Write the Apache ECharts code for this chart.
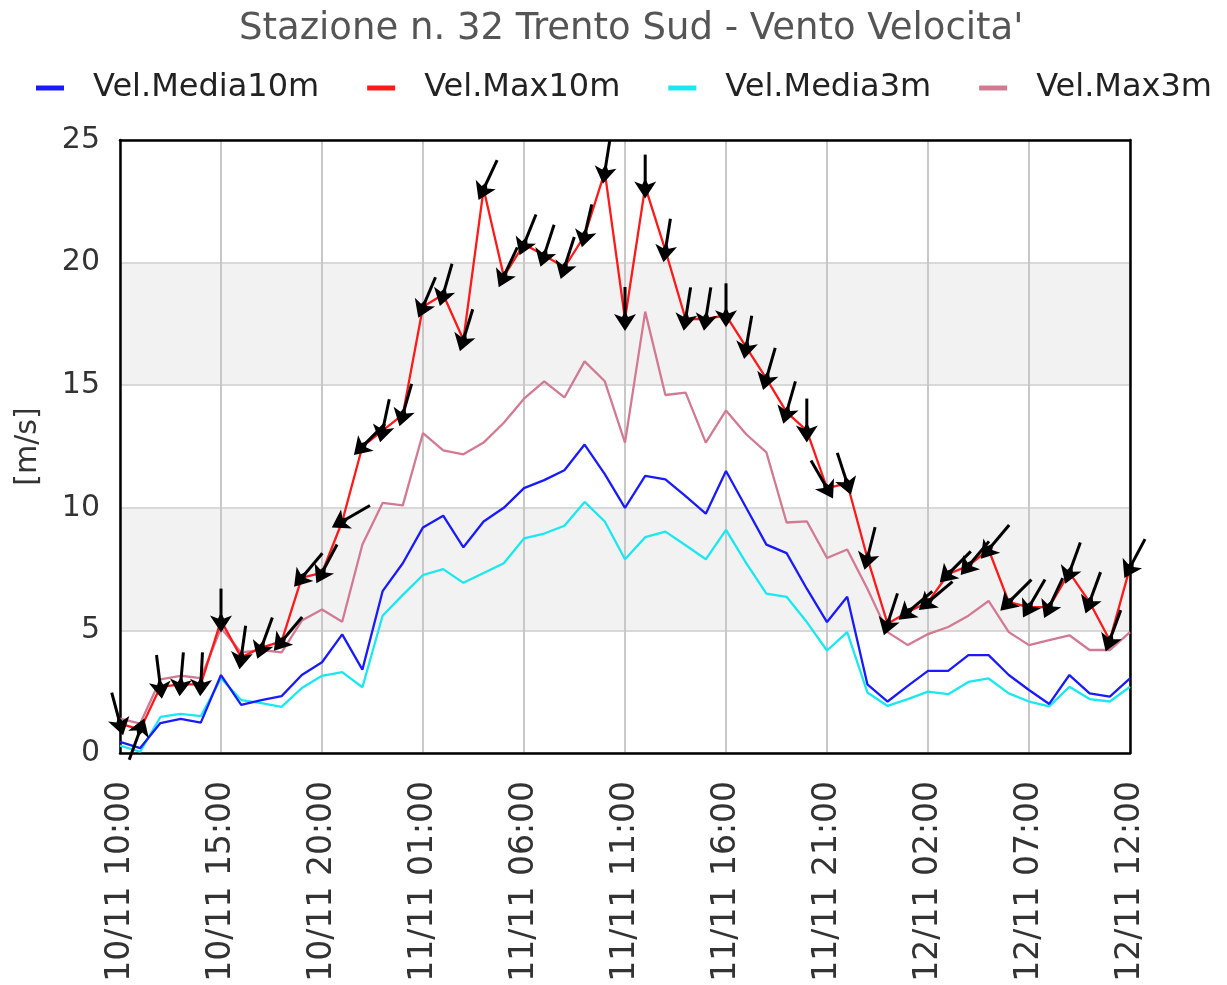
<!DOCTYPE html>
<html>
<head>
<meta charset="utf-8">
<title>Stazione n. 32 Trento Sud - Vento Velocita'</title>
<script src="https://cdn.jsdelivr.net/npm/echarts@6/dist/echarts.min.js"></script>
<style>
    html, body { margin: 0; padding: 0; background: #fff; }
    #chart { width: 1227px; height: 985px; }
</style>
</head>
<body>
<div id="chart"></div>
<script>
// dati: una misura ogni ora, dal 10/11 10:00 al 12/11 12:00
var seriesNames = ['Vel.Media10m', 'Vel.Max10m', 'Vel.Media3m', 'Vel.Max3m'];

var velMedia10m = [0.45, 0.2, 1.22, 1.39, 1.24, 3.18, 1.96, 2.16, 2.32, 3.18,
    3.7, 4.84, 3.4, 6.6, 7.74, 9.2, 9.68, 8.39, 9.44, 10.0,
    10.8, 11.13, 11.53, 12.58, 11.37, 10.0, 11.3, 11.16, 10.48, 9.76,
    11.5, 10.0, 8.5, 8.15, 6.7, 5.34, 6.37, 2.8, 2.1, 2.74,
    3.35, 3.35, 3.99, 3.99, 3.18, 2.57, 2.0, 3.18, 2.43, 2.3, 3.04];

var velMax10m = [1.2, 0.95, 2.7, 2.8, 2.8, 5.4, 3.9, 4.3, 4.55, 7.15,
    7.35, 9.44, 12.5, 13.15, 13.8, 18.2, 18.7, 16.85, 23.0, 19.44,
    20.75, 20.3, 19.8, 21.1, 23.7, 17.7, 23.1, 20.5, 17.7, 17.7,
    17.85, 16.55, 15.27, 13.9, 13.15, 10.8, 11.0, 7.95, 5.27, 5.75,
    6.15, 7.3, 7.63, 8.3, 6.15, 5.95, 5.95, 7.36, 6.15, 4.6, 7.57];

var velMedia3m = [0.3, 0.05, 1.47, 1.6, 1.5, 3.05, 2.16, 2.03, 1.88, 2.65,
    3.15, 3.3, 2.68, 5.6, 6.45, 7.26, 7.5, 6.94, 7.34, 7.74,
    8.75, 8.95, 9.27, 10.24, 9.44, 7.9, 8.8, 9.03, 8.47, 7.9,
    9.1, 7.74, 6.5, 6.37, 5.34, 4.18, 4.93, 2.47, 1.92, 2.2,
    2.5, 2.4, 2.9, 3.04, 2.43, 2.1, 1.9, 2.7, 2.2, 2.1, 2.7];

var velMax3m = [1.4, 1.2, 3.0, 3.15, 3.05, 5.1, 4.1, 4.2, 4.1, 5.4,
    5.85, 5.35, 8.5, 10.2, 10.1, 13.05, 12.34, 12.18, 12.66, 13.47,
    14.45, 15.16, 14.5, 15.97, 15.16, 12.66, 18.0, 14.6, 14.7, 12.66,
    13.97, 13.0, 12.26, 9.4, 9.45, 7.95, 8.3, 6.7, 4.93, 4.4,
    4.85, 5.14, 5.6, 6.2, 4.93, 4.4, 4.6, 4.8, 4.2, 4.2, 4.93];

// direzione di provenienza del vento (gradi da nord, senso orario)
var dirVento = [345, 200, 353, 5, 3, 0, 8, 20, 40, 40,
    28, 60, 45, 12, 16, 23, 16, 17, 25, 25,
    22, 18, 18, 13, 9, 0, 0, 9, 9, 9,
    0, 10, 16, 16, 0, 330, 342, 14, 18, 50,
    50, 45, 40, 40, 45, 30, 25, 20, 20, 20, 28];

// etichette orarie
var categories = [];
(function () {
    var day = 10, hour = 10;
    for (var i = 0; i < velMax10m.length; i++) {
        categories.push(day + '/11 ' + (hour < 10 ? '0' : '') + hour + ':00');
        hour++;
        if (hour === 24) { hour = 0; day++; }
    }
})();

var arrowData = velMax10m.map(function (v, i) {
    return [i, v, dirVento[i]];
});

var chart = echarts.init(document.getElementById('chart'));

var font = 'DejaVu Sans';
var frame = { show: true, onZero: false, lineStyle: { color: '#000', width: 2.5 } };

var option = {
    backgroundColor: '#fff',
    animation: false,
    textStyle: { fontFamily: font },
    title: {
        text: "Stazione n. 32 Trento Sud - Vento Velocita'",
        left: 234,
        top: 6,
        textStyle: { fontFamily: font, fontSize: 37, fontWeight: 'normal', color: '#555' }
    },
    legend: {
        data: seriesNames,
        left: 31,
        top: 67,
        icon: 'rect',
        itemWidth: 28,
        itemHeight: 5,
        itemGap: 48,
        textStyle: { fontFamily: font, fontSize: 32, color: '#222', padding: [0, 0, 0, 24] }
    },
    grid: {
        left: 120,
        right: 97,
        top: 140,
        bottom: 232
    },
    xAxis: [
        {
            type: 'category',
            data: categories,
            boundaryGap: false,
            axisLine: frame,
            axisTick: { show: false },
            axisLabel: {
                interval: 4,
                rotate: 90,
                margin: 28,
                fontFamily: font,
                fontSize: 33,
                color: '#333'
            },
            splitLine: {
                show: true,
                interval: 4,
                lineStyle: { color: '#c8c8c8', width: 2 }
            }
        },
        {
            // bordo superiore
            type: 'category',
            data: categories,
            position: 'top',
            boundaryGap: false,
            axisLine: frame,
            axisTick: { show: false },
            axisLabel: { show: false },
            splitLine: { show: false }
        }
    ],
    yAxis: [
        {
            type: 'value',
            min: 0,
            max: 25,
            interval: 5,
            name: '[m/s]',
            nameLocation: 'middle',
            nameRotate: 90,
            nameGap: 77,
            nameTextStyle: { fontFamily: font, fontSize: 30, color: '#333' },
            axisLine: frame,
            axisTick: { show: false },
            axisLabel: { margin: 20, fontFamily: font, fontSize: 30, color: '#333' },
            splitLine: { lineStyle: { color: '#d8d8d8', width: 2 } },
            splitArea: { show: true, areaStyle: { color: ['#ffffff', '#f2f2f2'] } }
        },
        {
            // bordo destro
            type: 'value',
            min: 0,
            max: 25,
            interval: 5,
            position: 'right',
            axisLine: frame,
            axisTick: { show: false },
            axisLabel: { show: false },
            splitLine: { show: false }
        }
    ],
    series: [
        {
            name: 'Vel.Media10m',
            type: 'line',
            data: velMedia10m,
            symbol: 'none',
            color: '#1a1aff',
            lineStyle: { width: 2.3 },
            z: 3
        },
        {
            name: 'Vel.Max10m',
            type: 'line',
            data: velMax10m,
            symbol: 'none',
            color: '#ff1a1a',
            lineStyle: { width: 2.3 },
            z: 5
        },
        {
            name: 'Vel.Media3m',
            type: 'line',
            data: velMedia3m,
            symbol: 'none',
            color: '#1ae8f0',
            lineStyle: { width: 2.3 },
            z: 2
        },
        {
            name: 'Vel.Max3m',
            type: 'line',
            data: velMax3m,
            symbol: 'none',
            color: '#d27a92',
            lineStyle: { width: 2.3 },
            z: 4
        },
        {
            // frecce direzione vento sulla Vel.Max10m
            name: 'dir',
            type: 'custom',
            data: arrowData,
            z: 10,
            silent: true,
            renderItem: function (params, api) {
                var pt = api.coord([api.value(0), api.value(1)]);
                var rot = -api.value(2) * Math.PI / 180;
                return {
                    type: 'group',
                    x: pt[0],
                    y: pt[1],
                    rotation: rot,
                    children: [
                        {
                            type: 'line',
                            shape: { x1: 0, y1: -32, x2: 0, y2: 2 },
                            style: { stroke: '#000', lineWidth: 3 }
                        },
                        {
                            type: 'polygon',
                            shape: { points: [[0, 12], [-11, -5], [-3, -2], [0, -8], [3, -2], [11, -5]] },
                            style: { fill: '#000' }
                        }
                    ]
                };
            }
        }
    ]
};

chart.setOption(option);
</script>
</body>
</html>
